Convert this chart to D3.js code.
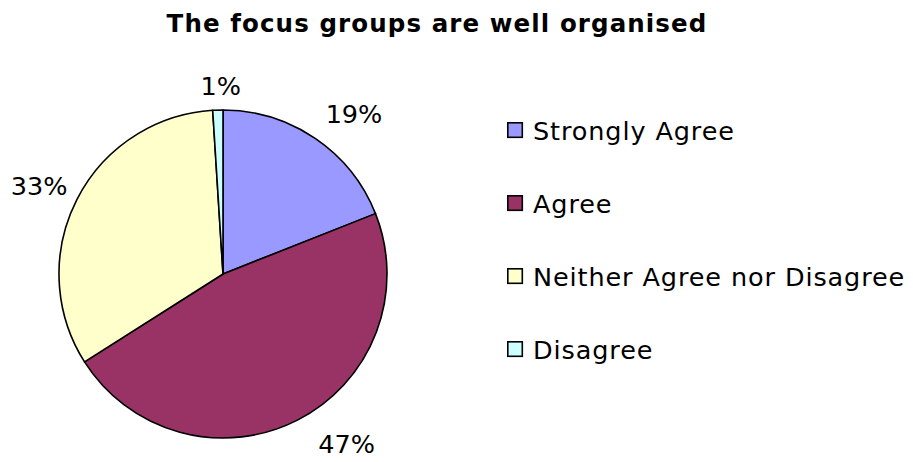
<!DOCTYPE html>
<html>
<head>
<meta charset="utf-8">
<script src="https://cdn.jsdelivr.net/npm/d3@7"></script>
<style>
  html, body { margin: 0; padding: 0; background: #fff; }
  svg { display: block; }
  text { font-family: "DejaVu Sans", Verdana, sans-serif; fill: #000; }
</style>
</head>
<body>
<svg id="chart" width="913" height="462"></svg>
<script>
// Survey responses for one statement
const title = "The focus groups are well organised";
const categories = ["Strongly Agree", "Agree", "Neither Agree nor Disagree", "Disagree"];
const percents = [19, 47, 33, 1];
const colors = ["#9999FF", "#993366", "#FFFFCC", "#CCFFFF"];

// Layout
const cx = 223, cy = 274, R = 164;
const labelR = 178;
// small hand offsets for the percentage labels, in px
const labelNudge = [[15, 0], [30, -2], [0, 0], [4, 5]];

const svg = d3.select("#chart");

svg.append("text")
  .attr("x", 437).attr("y", 32)
  .attr("text-anchor", "middle")
  .style("font-weight", "bold")
  .style("font-size", "24.5px")
  .style("letter-spacing", "1.1px")
  .text(title);

const data = categories.map((c, i) => ({ name: c, value: percents[i], color: colors[i] }));

const pie = d3.pie().value(d => d.value).sort(null);
const arcs = pie(data);
const arc = d3.arc().innerRadius(0).outerRadius(R);

const g = svg.append("g").attr("transform", `translate(${cx},${cy})`);

g.selectAll("path.slice")
  .data(arcs)
  .join("path")
  .attr("class", "slice")
  .attr("d", arc)
  .attr("fill", d => d.data.color)
  .attr("stroke", "#000")
  .attr("stroke-width", 1.6)
  .attr("stroke-linejoin", "round");

// Percentage labels outside the pie, box edge nearest the pie at the anchor
g.selectAll("text.pct")
  .data(arcs)
  .join("text")
  .attr("class", "pct")
  .style("font-size", "25.5px")
  .attr("text-anchor", "middle")
  .attr("dominant-baseline", "central")
  .text(d => d.data.value + "%")
  .each(function(d, i) {
    const a = (d.startAngle + d.endAngle) / 2;
    const bb = this.getBBox();
    const x = Math.sin(a) * (labelR + bb.width / 2) + labelNudge[i][0];
    const y = -Math.cos(a) * (labelR + bb.height / 2) + labelNudge[i][1];
    d3.select(this).attr("x", x).attr("y", y);
  });

// Legend
const legend = svg.append("g").attr("transform", "translate(507,122)");
const rowStep = 73;
const rows = legend.selectAll("g.row")
  .data(data)
  .join("g")
  .attr("class", "row")
  .attr("transform", (d, i) => `translate(0,${i * rowStep})`);

rows.append("rect")
  .attr("x", 0.8).attr("y", 0.8)
  .attr("width", 14.5).attr("height", 14.5)
  .attr("fill", d => d.color)
  .attr("stroke", "#000")
  .attr("stroke-width", 1.6);

rows.append("text")
  .attr("x", 26).attr("y", 18)
  .style("font-size", "25.5px")
  .style("letter-spacing", "0.9px")
  .text(d => d.name);
</script>
</body>
</html>
